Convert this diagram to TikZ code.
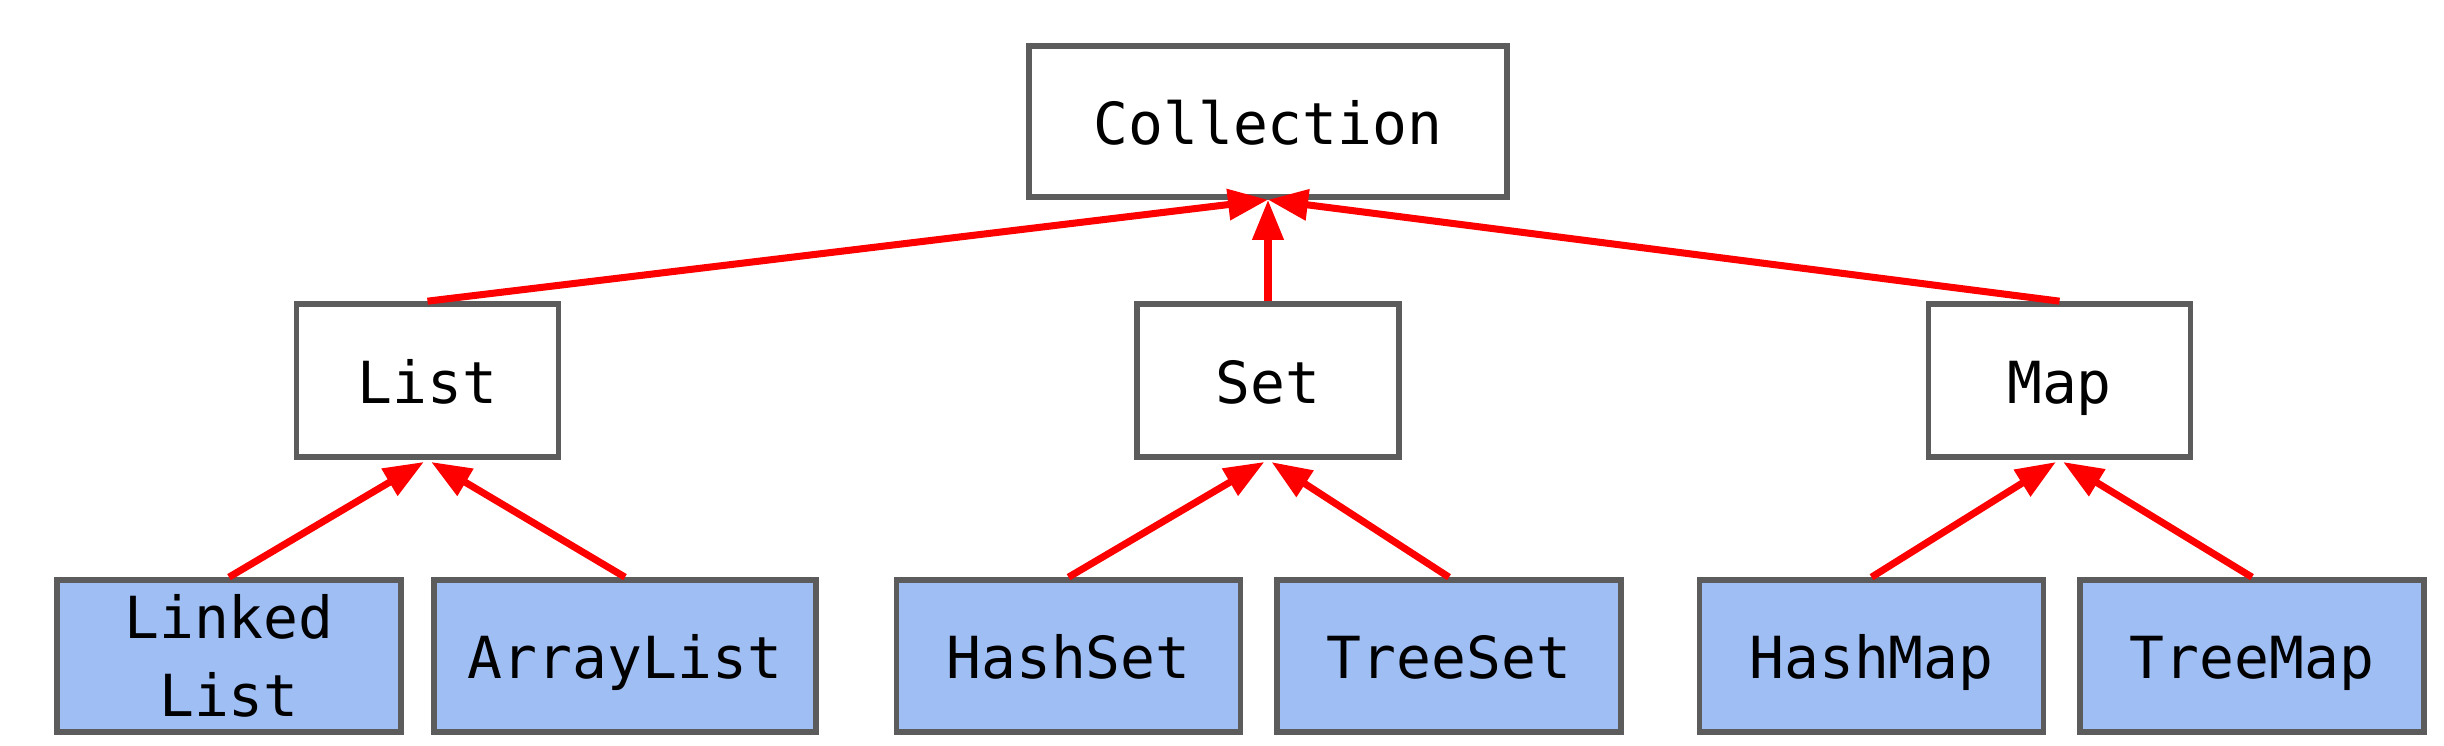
\documentclass[tikz,border=0pt]{standalone}
\usepackage{fontspec}
\newfontfamily\codefont{DejaVu Sans Mono}
\usepackage{xcolor}
\usetikzlibrary{arrows.meta}
\definecolor{boxgray}{HTML}{5C5C5C}
\definecolor{implblue}{HTML}{9FBEF4}
\tikzset{
    cbox/.style={draw=boxgray, line width=1.6pt, inner sep=0pt, align=center, font=\codefont\fontsize{16.5}{22}\selectfont},
    oneline/.style={text height=13pt, text depth=0pt},
    iface/.style={cbox, oneline, fill=white, minimum width=2.62cm, minimum height=1.53cm},
    implbase/.style={cbox, fill=implblue, minimum width=3.44cm, minimum height=1.52cm},
    impl/.style={implbase, oneline},
    extends/.style={draw=red, line width=2pt, -{Triangle[length=0.4cm,width=0.3cm]}}}

\begin{document}
\begin{tikzpicture}
\useasboundingbox (0,0) rectangle (24.44,7.46);

\node[iface, minimum width=4.78cm, minimum height=1.51cm] (coll) at (12.68,6.245) {Collection};

\node[iface] (list) at (4.275,3.655) {List};
\node[iface] (set) at (12.68,3.655) {Set};
\node[iface] (map) at (20.595,3.655) {Map};

\node[implbase] (linked) at (2.29,0.90) {Linked\\List};
\node[impl, minimum width=3.82cm] (array) at (6.25,0.90) {ArrayList};
\node[impl] (hset) at (10.685,0.90) {HashSet};
\node[impl] (tset) at (14.49,0.90) {TreeSet};
\node[impl] (hmap) at (18.715,0.90) {HashMap};
\node[impl] (tmap) at (22.52,0.90) {TreeMap};

\draw[extends] (list.north) -- (coll.south);
\draw[extends] (set.north) -- (coll.south);
\draw[extends] (map.north) -- (coll.south);

\draw[extends, shorten >=1.2pt] (linked.north) -- (list.south);
\draw[extends, shorten >=1.2pt] (array.north) -- (list.south);
\draw[extends, shorten >=1.2pt] (hset.north) -- (set.south);
\draw[extends, shorten >=1.2pt] (tset.north) -- (set.south);
\draw[extends, shorten >=1.2pt] (hmap.north) -- (map.south);
\draw[extends, shorten >=1.2pt] (tmap.north) -- (map.south);
\end{tikzpicture}
\end{document}
